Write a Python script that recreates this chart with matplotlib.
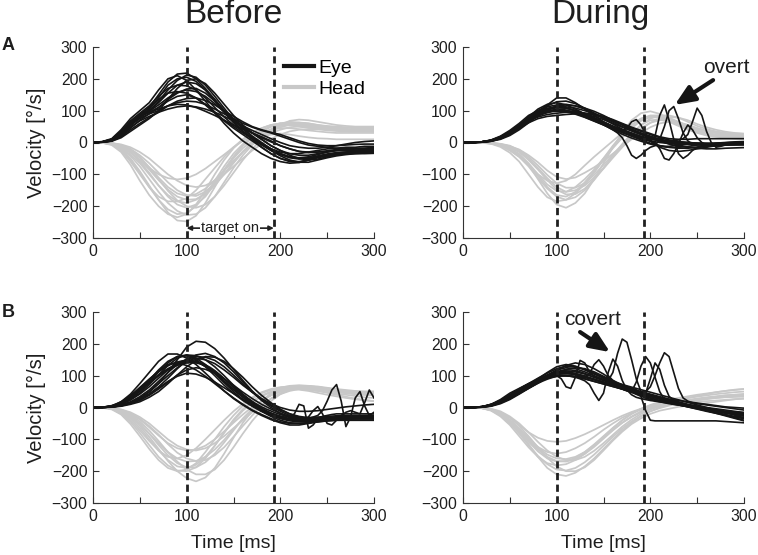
import matplotlib
matplotlib.use('Agg')
import matplotlib.pyplot as plt
from matplotlib.lines import Line2D

plt.rcParams['font.family'] = ['Liberation Sans', 'DejaVu Sans']

# ---------------- data ----------------
time_ms = list(range(0, 301, 10))       # 31 samples
time_fine_ms = list(range(0, 301, 5))   # 61 samples (traces with saccades)
event_ms = [100, 193]                   # dashed lines (target on window)

# Panel A, Before : eye velocity (deg/s)
eye_A_before = [
    [0,2,8,30,60,85, 110,150,190,215,218, 200,170,135,100,65, 35,10,-15,-35,-50, -60,-62,-55,-45,-38, -32,-30,-28,-27,-26],
    [0,3,12,40,75,100, 125,165,200,210,195, 165,130,95,60,30, 5,-15,-35,-50,-60, -65,-63,-55,-45,-40, -38,-35,-33,-32,-30],
    [0,2,8,25,55,80, 100,125,155,180,190, 185,165,135,100,70, 45,20,0,-20,-35, -45,-48,-45,-38,-30, -25,-22,-20,-20,-18],
    [0,1,5,20,45,70, 90,110,135,155,168, 170,155,130,100,75, 50,30,10,-10,-25, -35,-40,-40,-35,-30, -25,-22,-20,-18,-15],
    [0,2,10,30,60,80, 95,110,130,145,150, 140,120,95,70,50, 30,12,-5,-20,-30, -35,-35,-30,-25,-20, -18,-15,-15,-12,-12],
    [0,1,6,25,55,75, 90,100,115,125,130, 128,120,105,90,75, 60,48,38,30,20, 10,0,-8,-12,-15, -18,-20,-20,-22,-22],
    [0,2,10,35,65,85, 95,105,115,120,118, 110,98,85,70,55, 42,30,18,5,-10, -20,-28,-30,-30,-28, -25,-25,-25,-25,-25],
    [0,1,4,15,35,55, 75,100,135,170,195, 200,185,155,120,85, 55,30,10,-10,-25, -40,-50,-55,-52,-45, -38,-32,-28,-25,-24],
    [0,2,9,32,62,88, 110,135,155,160,155, 140,118,92,68,45, 25,5,-15,-35,-50, -58,-60,-55,-48,-42, -38,-36,-35,-35,-34],
    [0,1,5,18,40,60, 78,95,115,130,138, 140,132,118,100,82, 65,50,40,32,25, 15,5,-3,-8,-10, -10,-8,-6,-5,-5],
    [0,2,10,35,68,92, 115,145,170,180,178, 165,140,110,80,55, 35,15,-5,-25,-42, -55,-62,-62,-55,-48, -42,-38,-35,-33,-32],
    [0,1,5,20,48,68, 82,95,105,112,115, 112,105,95,82,68, 52,38,25,12,0, -10,-15,-18,-18,-15, -10,-5,0,3,5],
    [0,2,7,28,58,82, 105,140,180,200,205, 192,165,130,95,62, 35,12,-8,-25,-38, -48,-52,-50,-45,-40, -35,-32,-30,-28,-28],
    [0,2,9,30,58,80, 100,130,165,195,212, 205,180,145,108,72, 42,18,-2,-20,-35, -45,-50,-48,-42,-36, -32,-30,-28,-28,-28],
    [0,1,6,24,52,78, 98,118,140,158,165, 160,145,122,96,70, 48,30,15,2,-10, -20,-28,-32,-30,-26, -22,-20,-18,-18,-18],
]
eye_A_before_fine = []

# Panel A, Before : head velocity
head_A_before = [
    [0,0,-5,-20,-50,-90, -135,-180,-220,-245,-248, -230,-190,-140,-90,-45, -10,15,35,50,60, 65,62,58,52,48, 45,42,40,40,40],
    [0,0,-3,-12,-30,-60, -95,-135,-170,-195,-205, -195,-170,-130,-85,-45, -10,15,35,50,58, 60,58,55,50,45, 42,40,38,38,38],
    [0,-1,-6,-25,-60,-100, -140,-170,-185,-185,-175, -150,-115,-80,-45,-15, 10,30,45,55,60, 58,52,48,45,42, 40,40,40,40,40],
    [0,0,-2,-8,-20,-40, -65,-95,-125,-150,-165, -168,-155,-130,-100,-65, -30,0,25,42,55, 62,63,60,55,50, 48,46,45,45,45],
    [0,0,-4,-14,-32,-55, -80,-100,-112,-116,-112, -100,-82,-60,-38,-15, 5,20,32,40,45, 45,42,38,35,32, 30,30,30,30,30],
    [0,-1,-5,-18,-42,-75, -115,-155,-190,-215,-228, -225,-205,-170,-125,-80, -40,-8,18,38,52, 60,62,60,55,52, 50,48,48,48,48],
    [0,0,-3,-10,-25,-48, -78,-110,-140,-160,-168, -162,-145,-118,-88,-58, -30,-5,15,30,40, 48,50,48,45,42, 40,38,38,37,37],
    [0,-1,-8,-30,-70,-120, -165,-200,-225,-235,-225, -195,-150,-100,-55,-18, 10,30,45,55,60, 60,55,50,45,42, 40,40,40,40,40],
    [0,0,-2,-6,-15,-30, -50,-75,-100,-120,-135, -140,-135,-120,-100,-75, -50,-25,-5,12,25, 35,40,42,42,40, 38,36,35,35,35],
    [0,0,-3,-12,-30,-55, -85,-118,-148,-170,-180, -178,-162,-135,-100,-62, -28,0,22,38,48, 55,55,52,48,45, 42,40,38,38,38],
    [0,0,-4,-16,-38,-65, -100,-135,-165,-185,-190, -180,-158,-125,-88,-50, -18,5,18,25,28, 25,20,16,13,12, 10,10,10,10,10],
    [0,0,-2,-8,-22,-45, -78,-115,-152,-182,-200, -205,-195,-170,-135,-95, -55,-20,10,35,55, 68,72,70,65,60, 55,52,50,50,50],
    [0,-1,-6,-22,-55,-95, -140,-180,-210,-225,-222, -200,-165,-120,-75,-35, -5,20,38,50,55, 55,50,46,42,38, 36,35,35,35,35],
]

# Panel A, During : eye velocity
eye_A_during = [
    [0,0,2,6,15,30, 50,80,105,120,125, 118,105,90,75,60, 45,32,22,12,5, 0,-3,-5,-5,-5, -5,-5,-5,-5,-5],
    [0,0,1,4,12,25, 45,70,95,115,128, 130,122,108,92,75, 58,42,28,15,5, -15,-25,-28,-25,-20, -15,-10,-8,-6,-5],
    [0,0,2,8,20,38, 60,85,100,108,110, 108,100,90,78,65, 52,40,30,20,12, 5,0,-3,-5,-5, -5,-4,-3,-3,-3],
    [0,0,1,5,14,28, 48,72,92,105,112, 112,108,100,90,80, 68,55,42,30,20, 10,0,-8,-14,-18, -20,-20,-18,-17,-16],
    [0,0,2,7,18,32, 50,68,80,88,92, 95,95,92,86,78, 68,58,46,35,25, 15,8,3,0,-2, -3,-3,-3,-3,-3],
    [0,0,1,4,10,22, 40,62,85,102,110, 108,100,88,72,56, 40,26,14,4,-5, -12,-15,-15,-12,-8, -5,-2,0,2,3],
    [0,0,2,6,16,30, 50,75,98,118,140, 140,125,105,85,65, 48,33,20,8,-2, -10,-15,-18,-18,-15, -12,-10,-8,-8,-8],
    [0,0,1,5,14,30, 52,78,95,100,100, 98,95,92,88,82, 72,60,48,38,28, 18,12,10,10,12, 12,12,12,12,12],
    [0,0,2,6,15,28, 45,62,75,82,85, 88,90,88,82,72, 60,48,36,25,15, 8,3,0,-2,-3, -3,-3,-3,-3,-3],
    [0,0,1,4,12,26, 46,70,90,105,115, 118,115,108,98,85, 70,55,40,28,18, 10,5,2,0,-2, -3,-4,-5,-5,-5],
    [0,0,2,7,18,34, 55,80,100,112,118, 120,115,105,92,78, 64,50,38,26,15, 5,-5,-12,-15,-15, -12,-10,-8,-6,-5],
]
eye_A_during_fine = [
    [0,0,0,1,2,4,7,12,18,26,35, 45,55,66,77,86,94,100,105,108,110, 110,108,105,100,95,90,84,77,70,63,
     57,50,44,38,32,26,20,15,10,5, 20,85,118,70,10,-35,-50,-40,-25,-15, -10,-8,-5,-3,-2,-1,0,0,0,0],
    [0,0,0,1,2,3,5,9,14,20,28, 37,47,57,67,76,84,90,95,98,100, 101,100,98,95,91,86,80,74,68,62,
     56,50,44,38,32,27,22,17,13,10, 8,6,5,5,6,8,12,25,65,108, 85,35,0,-15,-12,-8,-5,-3,-2,-2],
    [0,0,0,1,2,4,7,11,17,24,32, 42,52,62,72,80,87,92,96,99,100, 100,98,95,91,86,80,74,68,62,56,
     50,45,40,36,45,65,72,55,25,5, -5,-10,-12,-12,-10,-8,-6,-5,-4,-4, -4,-4,-4,-4,-4,-4,-4,-4,-4,-4],
    [0,0,0,1,2,4,6,10,15,22,30, 40,50,60,70,79,87,93,98,102,104, 104,102,98,94,89,83,77,70,63,56,
     48,40,30,15,-10,-40,-50,-40,-25,-15, -10,10,50,100,113,75,30,5,-5,-8, -8,-8,-6,-5,-4,-3,-2,-2,-2,-2],
    [0,0,0,1,2,4,7,11,16,22,29, 37,46,56,66,75,83,89,94,97,98, 98,96,93,89,84,79,73,67,61,55,
     49,43,37,31,26,21,16,12,8,5, 0,-20,-50,-55,-35,-5,30,55,40,15, 0,-8,-10,-10,-8,-6,-5,-4,-3,-3],
]

# Panel A, During : head velocity
head_A_during = [
    [0,0,0,-2,-8,-18, -38,-70,-115,-160,-195, -205,-190,-160,-115,-65, -15,30,70,92,98, 90,75,60,45,35, 28,24,22,20,20],
    [0,0,0,-3,-10,-25, -45,-72,-100,-120,-128, -120,-100,-72,-45,-20, 5,30,55,75,85, 85,78,65,52,42, 35,30,27,25,25],
    [0,0,0,-1,-5,-12, -28,-50,-80,-112,-140, -155,-150,-135,-110,-80, -45,-10,25,55,75, 85,85,78,65,52, 42,35,30,28,27],
    [0,0,-1,-4,-14,-32, -60,-100,-140,-172,-185, -180,-160,-130,-95,-55, -18,15,45,68,80, 80,72,60,48,38, 30,25,22,20,20],
    [0,0,0,-1,-5,-12, -22,-40,-62,-88,-108, -115,-110,-95,-78,-58, -35,-12,10,30,48, 60,65,62,55,45, 38,32,28,25,25],
    [0,0,0,-3,-9,-20, -40,-70,-105,-140,-165, -170,-155,-125,-90,-50, -10,25,55,75,82, 78,68,55,42,32, 25,20,18,16,15],
    [0,0,0,-2,-6,-15, -30,-55,-85,-118,-148, -163,-162,-145,-115,-82, -48,-15,15,42,62, 75,80,78,70,58, 48,40,34,30,28],
    [0,0,-1,-3,-10,-24, -45,-75,-112,-145,-170, -180,-172,-150,-118,-80, -40,-5,28,55,70, 72,65,52,40,30, 22,18,15,13,12],
    [0,0,0,-1,-4,-10, -24,-45,-72,-102,-128, -142,-142,-128,-102,-70, -38,-8,20,45,62, 70,70,64,55,45, 36,30,25,22,20],
    [0,0,0,-3,-8,-18, -36,-65,-100,-132,-152, -155,-140,-115,-85,-50, -15,18,48,70,80, 78,70,58,46,36, 28,22,18,15,14],
]

# Panel B, Before : eye velocity
eye_B_before = [
    [0,0,2,6,14,28, 48,75,110,150,190, 208,205,185,155,120, 85,52,25,5,-12, -25,-32,-35,-35,-35, -35,-35,-35,-35,-35],
    [0,1,5,18,42,75, 110,145,168,168,155, 135,108,80,52,28, 8,-10,-25,-38,-48, -55,-55,-50,-45,-42, -40,-40,-40,-40,-40],
    [0,1,4,12,28,50, 80,112,140,160,165, 155,135,108,78,50, 25,5,-12,-28,-40, -48,-50,-48,-44,-40, -38,-36,-35,-35,-35],
    [0,0,2,6,14,25, 42,65,92,122,148, 165,170,160,140,112, 80,50,22,0,-18, -32,-40,-42,-42,-40, -38,-36,-35,-34,-33],
    [0,1,3,10,24,42, 65,92,118,140,150, 145,130,108,82,56, 32,10,-8,-22,-32, -38,-40,-38,-35,-32, -30,-30,-30,-30,-30],
    [0,0,2,5,12,22, 38,58,80,102,118, 125,120,108,90,70, 48,28,10,-5,-18, -28,-32,-32,-30,-28, -26,-25,-25,-25,-25],
    [0,0,1,4,10,18, 32,50,75,102,128, 148,160,158,145,122, 95,65,38,15,-5, -20,-30,-35,-35,-33, -30,-28,-27,-26,-25],
    [0,1,4,15,35,60, 88,115,135,140,132, 118,98,75,52,30, 10,-8,-22,-35,-45, -50,-50,-48,-45,-42, -40,-40,-40,-40,-40],
    [0,0,2,6,14,26, 42,62,82,98,108, 105,95,80,62,44, 26,10,-5,-18,-28, -35,-38,-38,-36,-34, -32,-30,-30,-30,-30],
    [0,0,2,6,16,30, 50,75,100,125,145, 155,150,138,118,95, 70,48,28,12,0, -8,-12,-12,-10,-6, -2,2,5,8,10],
    [0,1,3,10,24,45, 72,102,132,155,165, 163,150,128,100,70, 42,18,-2,-18,-30, -38,-42,-42,-40,-38, -36,-35,-34,-34,-34],
    [0,1,4,14,32,56, 85,118,145,160,162, 150,128,100,70,44, 22,4,-12,-25,-35, -42,-45,-44,-40,-37, -35,-34,-34,-34,-34],
    [0,0,2,8,18,34, 55,82,110,135,152, 160,158,148,128,102, 74,48,26,8,-8, -20,-28,-32,-33,-32, -30,-30,-30,-30,-30],
]
eye_B_before_fine = [
    [0,0,1,3,6,11,18,27,38,50,63, 76,89,101,112,122,131,138,143,146,148, 147,143,137,129,119,108,96,83,70,57,
     45,33,22,12,3,-5,-12,-18,-23,-27, -30,-28,-20,10,5,-65,-55,-35,-28,-25, -22,-20,-20,-20,-20,-20,-20,-20,-20,-20],
    [0,0,1,2,5,9,15,23,33,44,56, 68,80,92,103,113,122,130,136,141,144, 145,144,140,134,126,116,104,91,77,63,
     50,37,25,14,4,-5,-13,-20,-26,-31, -35,-38,-40,-40,-38,-35,-30,-25,-10,20, 55,72,20,-60,-30,30,50,5,-25,-15],
    [0,0,1,2,4,8,13,20,29,40,52, 64,76,88,99,109,118,126,132,137,140, 141,140,137,131,123,113,102,90,77,64,
     52,40,29,19,10,2,-5,-11,-17,-22, -26,-30,-33,-35,-36,-30,-10,3,-20,-50, -55,-40,-25,-15,-10,-15,-20,15,55,30],
]

# Panel B, Before : head velocity
head_B_before = [
    [0,0,-3,-12,-30,-58, -92,-130,-168,-200,-222, -232,-220,-190,-145,-95, -48,-10,20,45,62, 68,70,68,64,60, 56,52,50,48,46],
    [0,0,-4,-16,-40,-72, -105,-135,-155,-160,-150, -128,-100,-70,-40,-12, 12,32,48,58,64, 66,66,64,60,56, 52,50,48,46,45],
    [0,0,-2,-8,-20,-38, -62,-88,-112,-128,-135, -132,-120,-100,-75,-48, -22,2,22,38,50, 58,62,62,60,58, 55,52,50,50,50],
    [0,-1,-6,-22,-52,-90, -130,-165,-190,-200,-195, -175,-140,-100,-60,-25, 5,28,45,55,60, 62,62,60,56,52, 48,45,42,40,40],
    [0,0,-2,-6,-15,-30, -50,-75,-100,-120,-132, -135,-128,-112,-90,-65, -40,-15,8,28,42, 52,58,60,58,55, 50,46,42,40,38],
    [0,0,-3,-10,-26,-50, -82,-118,-150,-175,-188, -188,-172,-145,-110,-72, -35,-5,20,40,55, 64,68,68,66,62, 58,55,52,50,50],
    [0,0,-3,-14,-35,-65, -100,-135,-165,-185,-190, -180,-155,-120,-80,-42, -10,15,35,48,55, 58,58,56,52,48, 44,40,36,32,30],
    [0,0,-2,-7,-18,-35, -58,-85,-115,-142,-160, -168,-165,-150,-125,-92, -58,-25,5,28,45, 56,62,64,62,58, 54,50,48,46,45],
    [0,0,-4,-18,-45,-80, -118,-155,-182,-198,-200, -188,-160,-120,-78,-38, -5,20,38,50,56, 58,56,52,46,40, 35,30,26,22,20],
    [0,0,-2,-8,-22,-44, -72,-105,-140,-170,-195, -210,-210,-195,-165,-125, -82,-42,-8,20,42, 56,64,66,64,60, 56,52,50,48,46],
    [0,0,-3,-11,-28,-52, -82,-112,-140,-160,-170, -168,-155,-132,-102,-68, -35,-5,20,38,50, 56,58,56,52,46, 40,34,28,24,20],
]

# Panel B, During : eye velocity
eye_B_during = [
    [0,0,2,8,20,38, 55,72,90,110,128, 135,130,118,105,92, 80,68,58,48,38, 30,22,15,8,2, -3,-8,-12,-15,-18],
    [0,0,1,5,15,30, 48,65,82,98,110, 115,112,105,95,85, 75,65,55,45,36, 28,20,12,5,-2, -8,-12,-15,-18,-20],
    [0,0,2,10,25,45, 60,75,88,100,108, 110,106,98,88,78, 68,58,48,38,30, 22,15,8,2,-4, -10,-16,-22,-28,-32],
    [0,0,1,6,16,32, 50,68,85,102,118, 125,122,112,100,88, 76,65,55,46,38, 32,26,22,18,14, 10,6,2,0,-2],
    [0,0,2,8,22,40, 58,74,88,96,100, 100,96,90,82,74, 66,58,50,42,34, 26,18,10,2,-5, -12,-18,-24,-30,-35],
    [0,0,1,4,12,25, 42,60,78,95,110, 120,125,122,112,98, 82,66,52,40,30, 22,15,10,5,0, -4,-8,-12,-14,-16],
    [0,0,2,7,18,35, 52,68,82,92,98, 100,98,94,88,80, 72,64,56,48,40, 32,24,16,8,0, -8,-16,-24,-32,-40],
    [0,0,1,5,14,28, 45,62,80,98,115, 132,140,135,122,105, 85,65,48,35,25, 18,12,8,4,0, -5,-10,-14,-18,-22],
    [0,0,2,9,22,40, 58,75,92,108,122, 130,128,120,108,95, 82,70,60,50,42, 34,26,18,10,4, -2,-8,-14,-20,-25],
]
eye_B_during_fine = [
    [0,0,0,1,3,6,10,15,21,28,36, 44,52,60,68,76,84,92,99,106,112, 116,118,118,116,112,107,101,95,90,86,
     84,110,170,215,205,150,90,50,30,25, 22,20,18,16,14,12,10,8,6,4, 2,0,-2,-4,-6,-8,-10,-12,-14,-16],
    [0,0,0,1,2,5,8,12,17,23,30, 37,45,53,61,69,77,85,92,98,103, 106,107,106,104,100,96,92,88,84,80,
     76,72,68,64,60,56,52,48,50,65, 100,140,172,160,110,60,30,20,15,12, 10,8,6,4,2,0,-2,-4,-6,-8],
    [0,0,0,1,3,6,10,15,22,30,38, 47,56,65,73,81,89,96,102,107,110, 112,112,110,107,103,99,94,89,84,79,
     74,69,64,58,52,50,80,130,160,140, 95,50,25,15,10,8,5,3,0,-2, -5,-8,-10,-13,-16,-18,-20,-22,-24,-26],
    [0,0,0,1,2,4,8,12,18,25,33, 41,49,57,65,73,81,88,94,99,100, 90,65,60,95,148,140,112,98,92,88,
     84,80,76,72,68,64,60,56,52,48, 44,40,36,32,28,24,20,16,12,8, 4,0,-4,-8,-12,-16,-20,-24,-28,-32],
    [0,0,0,1,3,5,9,14,20,27,35, 43,51,59,67,75,82,88,93,97,100, 101,100,98,95,90,84,72,45,22,45,
     110,152,130,85,55,40,32,28,25,22, 20,18,16,14,12,10,8,6,4,2, 0,-3,-6,-9,-12,-15,-18,-21,-24,-27],
    [0,0,0,1,2,5,8,13,19,26,34, 42,50,58,66,74,82,89,95,100,104, 106,106,105,103,100,97,105,135,150,130,
     100,85,78,72,66,60,55,35,-10,-40, -42,-42,-42,-42,-42,-42,-42,-42,-42,-42, -42,-42,-42,-42,-43,-44,-45,-46,-47,-48],
    [0,0,0,1,2,4,7,11,16,22,29, 36,44,52,60,68,76,83,89,94,98, 100,100,99,97,94,90,86,82,78,74,
     70,66,62,58,54,50,46,42,45,90, 140,120,70,35,22,15,10,6,2,-2, -6,-10,-14,-18,-22,-26,-30,-34,-38,-42],
]

# Panel B, During : head velocity
head_B_during = [
    [0,0,-2,-8,-22,-45, -78,-115,-155,-190,-210, -215,-205,-185,-160,-130, -100,-72,-48,-28,-12, 0,8,15,20,25, 30,34,38,40,42],
    [0,0,-1,-5,-15,-32, -55,-78,-95,-105,-108, -105,-96,-84,-70,-55, -40,-26,-14,-4,4, 10,15,20,24,28, 32,35,38,40,42],
    [0,0,-2,-10,-28,-55, -90,-125,-155,-175,-182, -178,-165,-145,-120,-92, -65,-40,-20,-4,8, 18,25,30,35,40, 44,48,52,55,58],
    [0,0,-1,-6,-18,-38, -65,-95,-125,-148,-160, -162,-155,-140,-118,-94, -70,-48,-30,-15,-4, 5,12,18,22,26, 30,33,36,38,40],
    [0,0,-2,-9,-25,-50, -82,-118,-152,-178,-195, -198,-190,-172,-148,-120, -92,-66,-44,-26,-12, -2,6,12,17,22, 26,30,33,36,38],
    [0,0,-1,-7,-20,-42, -70,-102,-132,-155,-168, -170,-162,-146,-124,-98, -72,-48,-28,-12,0, 8,14,18,22,25, 28,30,32,33,34],
    [0,0,-2,-8,-22,-44, -72,-100,-124,-140,-145, -140,-128,-112,-92,-70, -50,-32,-18,-6,4, 12,18,24,30,36, 42,48,52,56,58],
    [0,0,-1,-5,-15,-32, -58,-90,-125,-158,-185, -200,-200,-188,-165,-135, -104,-76,-52,-34,-20, -10,-4,2,6,10, 14,18,22,26,28],
    [0,0,-2,-8,-22,-45, -75,-108,-138,-160,-170, -168,-158,-140,-116,-90, -64,-40,-20,-5,6, 14,20,25,30,34, 38,42,45,48,50],
    [0,0,-1,-4,-12,-28, -50,-78,-108,-135,-155, -165,-165,-155,-136,-112, -86,-60,-38,-20,-6, 4,10,14,16,18, 20,22,24,26,28],
]

x_ticks = [0, 50, 100, 150, 200, 250, 300]
x_ticklabels = ['0', '', '100', '', '200', '', '300']
y_ticks = [-300, -200, -100, 0, 100, 200, 300]

EYE_C = '#151515'
HEAD_C = '#c8c8c8'
TXT_C = '#1e1e1e'

# ---------------- figure ----------------
W, H = 758, 555
fig = plt.figure(figsize=(W / 100, H / 100), dpi=100)


def axes_at(x0, y_top, x1, y_bot):
    return fig.add_axes([x0 / W, 1 - y_bot / H, (x1 - x0) / W, (y_bot - y_top) / H])


def draw_panel(ax, heads, eyes, eyes_fine):
    for h in heads:
        ax.plot(time_ms, h, color=HEAD_C, lw=1.25, zorder=1, solid_joinstyle='round')
    for e in eyes:
        ax.plot(time_ms, e, color=EYE_C, lw=1.2, zorder=2, solid_joinstyle='round')
    for e in eyes_fine:
        ax.plot(time_fine_ms, e, color=EYE_C, lw=1.2, zorder=2, solid_joinstyle='round')
    for x in event_ms:
        ax.axvline(x, color='#202020', lw=2.0, ls=(0, (2.6, 1.6)), zorder=3)
    ax.set_xlim(0, 300)
    ax.set_ylim(-300, 300)
    for s in ('top', 'right'):
        ax.spines[s].set_visible(False)
    for s in ('left', 'bottom'):
        ax.spines[s].set_linewidth(0.8)
        ax.spines[s].set_color('#333333')
    ax.set_xticks(x_ticks)
    ax.set_xticklabels(x_ticklabels)
    ax.set_yticks(y_ticks)
    ax.tick_params(direction='in', length=4, width=0.8, colors='#333333',
                   labelcolor=TXT_C, labelsize=11.3, pad=4)


axA1 = axes_at(93, 47, 374, 238)
axA2 = axes_at(463, 47, 744, 238)
axB1 = axes_at(93, 312, 374, 503)
axB2 = axes_at(463, 312, 744, 503)

draw_panel(axA1, head_A_before, eye_A_before, eye_A_before_fine)
draw_panel(axA2, head_A_during, eye_A_during, eye_A_during_fine)
draw_panel(axB1, head_B_before, eye_B_before, eye_B_before_fine)
draw_panel(axB2, head_B_during, eye_B_during, eye_B_during_fine)

for ax in (axA1, axB1):
    ax.set_ylabel('Velocity [°/s]', fontsize=14.5, color=TXT_C, labelpad=4)
for ax in (axB1, axB2):
    ax.set_xlabel('Time [ms]', fontsize=14, color=TXT_C, labelpad=8)

# titles and panel letters
fig.text(233 / W, 1 - 23 / H, 'Before', ha='center', va='baseline', fontsize=24, color=TXT_C)
fig.text(600 / W, 1 - 23 / H, 'During', ha='center', va='baseline', fontsize=24, color=TXT_C)
fig.text(2 / W, 1 - 50 / H, 'A', ha='left', va='baseline', fontsize=13, fontweight='bold', color=TXT_C)
fig.text(2 / W, 1 - 317 / H, 'B', ha='left', va='baseline', fontsize=13, fontweight='bold', color=TXT_C)

# legend
handles = [Line2D([], [], color=EYE_C, lw=3), Line2D([], [], color=HEAD_C, lw=3)]
axA1.legend(handles, ['Eye', 'Head'], loc='upper left', bbox_to_anchor=(0.68, 0.935),
            frameon=False, fontsize=14, handlelength=1.55, handletextpad=0.2,
            labelspacing=0.15, borderaxespad=0, borderpad=0)

# "target on" window
axA1.annotate('', xy=(100, -269), xytext=(193, -269),
              arrowprops=dict(arrowstyle='<|-|>', color='#202020', lw=1.2,
                              mutation_scale=7, shrinkA=0, shrinkB=0), zorder=4)
axA1.text(146.5, -269, 'target on', ha='center', va='center', fontsize=10.5, color=TXT_C,
          bbox=dict(facecolor='white', edgecolor='none', pad=0.5), zorder=5)

# overt / covert annotations
axA2.annotate('', xy=(226, 118), xytext=(267, 196),
              arrowprops=dict(arrowstyle='-|>,head_length=0.75,head_width=0.32', color='#151515',
                              lw=3, mutation_scale=16, shrinkA=0, shrinkB=0), zorder=6)
axA2.text(281, 237, 'overt', ha='center', va='center', fontsize=15, color=TXT_C,
          clip_on=False, zorder=6)
axB2.annotate('', xy=(157, 174), xytext=(125, 237),
              arrowprops=dict(arrowstyle='-|>,head_length=0.75,head_width=0.32', color='#151515',
                              lw=3, mutation_scale=16, shrinkA=0, shrinkB=0), zorder=6)
axB2.text(138, 278, 'covert', ha='center', va='center', fontsize=15, color=TXT_C,
          clip_on=False, zorder=6)

fig.savefig('out.png', dpi=100)
